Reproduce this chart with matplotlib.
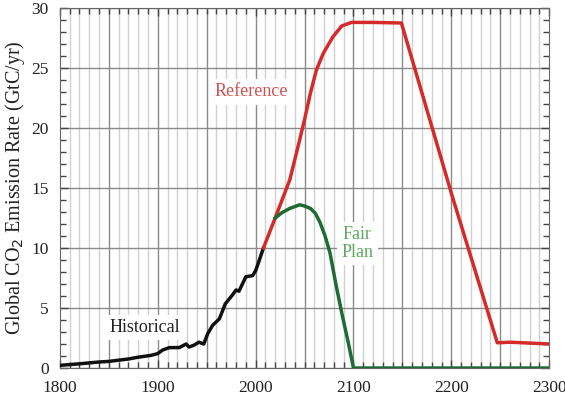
import matplotlib
matplotlib.use('Agg')
import matplotlib.pyplot as plt
from matplotlib.ticker import MultipleLocator

# Historical emissions (GtC/yr)
hist_years = [1800, 1820, 1840, 1850, 1860, 1870, 1880, 1893, 1900, 1905, 1912, 1922, 1929,
              1932, 1937, 1942, 1947, 1951, 1956, 1963, 1969, 1976, 1980, 1983, 1990, 1997,
              2000, 2003, 2008]
hist_vals = [0.22, 0.35, 0.5, 0.55, 0.65, 0.75, 0.9, 1.05, 1.2, 1.5, 1.7, 1.7, 2.0,
             1.75, 1.9, 2.15, 2.0, 2.85, 3.55, 4.1, 5.35, 6.05, 6.5, 6.4, 7.6, 7.7,
             8.1, 8.8, 10.0]

# Reference scenario
ref_years = [2008, 2020, 2035, 2045, 2050, 2056, 2062, 2069, 2079, 2088, 2098, 2120, 2149,
             2201, 2247, 2260, 2300]
ref_vals = [10.0, 12.5, 15.7, 19.0, 20.7, 22.9, 24.8, 26.2, 27.6, 28.5, 28.8, 28.8, 28.75,
            14.3, 2.1, 2.15, 2.0]

# Fair Plan scenario
fair_years = [2020, 2027, 2035, 2045, 2050, 2056, 2061, 2066, 2071, 2076, 2082, 2088, 2095,
              2100, 2300]
fair_vals = [12.5, 12.95, 13.3, 13.6, 13.5, 13.3, 12.9, 12.1, 11.0, 9.6, 7.0, 4.6, 2.0,
             0.0, 0.0]

plt.rcParams['font.family'] = ['Liberation Serif', 'DejaVu Serif']

fig = plt.figure(figsize=(5.65, 4.0), dpi=100)
ax = fig.add_axes([0.106, 0.08, 0.866, 0.90])

ax.plot(hist_years, hist_vals, color='#111111', lw=2.5, zorder=3)
ax.plot(ref_years, ref_vals, color='#d42a2a', lw=2.5, zorder=3)
ax.plot(fair_years, fair_vals, color='#1f6b34', lw=2.5, zorder=4)

ax.set_xlim(1800, 2300)
ax.set_ylim(0, 30)
ax.xaxis.set_major_locator(MultipleLocator(100))
ax.xaxis.set_minor_locator(MultipleLocator(10))
ax.yaxis.set_major_locator(MultipleLocator(5))
ax.yaxis.set_minor_locator(MultipleLocator(1))

# vertical grid: light every 10 years, darker every 50
for yr in range(1810, 2300, 10):
    if yr % 50 == 0:
        ax.axvline(yr, color='#8a8a8a', lw=1.0, zorder=1)
    else:
        ax.axvline(yr, color='#d0d0d0', lw=1.0, zorder=1)
ax.yaxis.grid(True, which='major', color='#8a8a8a', lw=1.0, zorder=1)

ax.tick_params(which='both', direction='in', top=True, right=True, colors='#444444',
               labelcolor='#222222', labelsize=12.5)
ax.tick_params(axis='x', which='both', pad=9)
ax.tick_params(axis='y', which='both', pad=8)
ax.tick_params(which='major', length=6, width=1)
ax.tick_params(which='minor', length=4, width=1)
for s in ax.spines.values():
    s.set_color('#666666')

ax.set_ylabel('Global CO$_2$ Emission Rate (GtC/yr)', fontsize=14.5, color='#222222',
              labelpad=3)

box = dict(facecolor='white', edgecolor='none', pad=3)
ax.text(1996, 23.0, 'Reference', color='#d65050', fontsize=13, ha='center', va='center',
        bbox=box, zorder=5)
ax.text(1887, 3.4, 'Historical', color='#222222', fontsize=13, ha='center', va='center',
        bbox=box, zorder=5)
ax.text(2104, 10.4, 'Fair\nPlan', color='#5fa85f', fontsize=13, ha='center', va='center',
        bbox=box, linespacing=1.05, zorder=5)

fig.savefig('out.png', dpi=100)
